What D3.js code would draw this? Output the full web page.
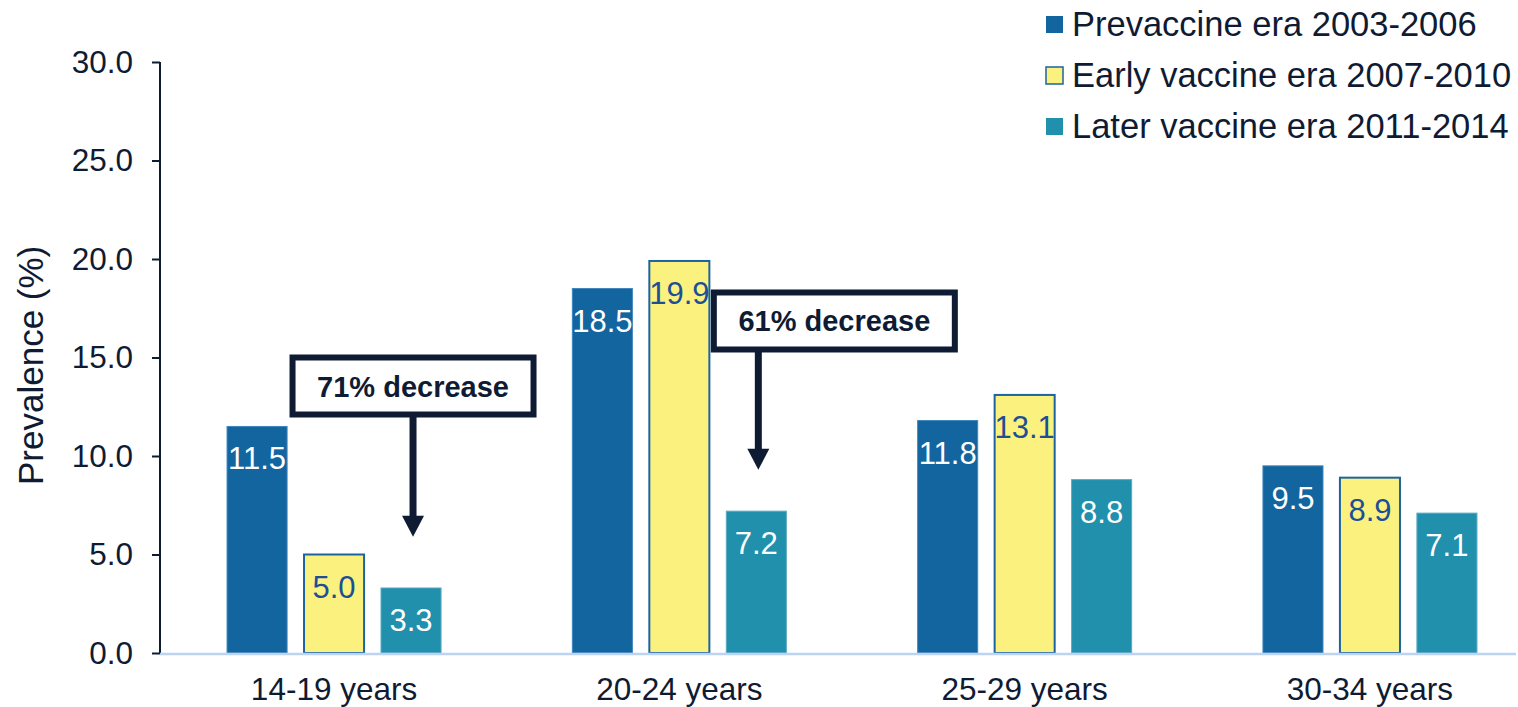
<!DOCTYPE html>
<html>
<head>
<meta charset="utf-8">
<script src="https://cdn.jsdelivr.net/npm/d3@7"></script>
<style>
  body { margin: 0; background: #fff; }
  svg { display: block; font-family: Arial, "Liberation Sans", sans-serif; }
</style>
</head>
<body>
<div id="chart"></div>
<script>
// data
const ageGroups = ["14-19 years", "20-24 years", "25-29 years", "30-34 years"];
const eras = ["Prevaccine era 2003-2006", "Early vaccine era 2007-2010", "Later vaccine era 2011-2014"];
const prevaccine = [11.5, 18.5, 11.8, 9.5];
const earlyVaccine = [5.0, 19.9, 13.1, 8.9];
const laterVaccine = [3.3, 7.2, 8.8, 7.1];
const yTicks = [0, 5, 10, 15, 20, 25, 30];
const notes = [
  { group: "14-19 years", label: "71% decrease", boxTop: 15.0, tip: 5.9, shift: 0 },
  { group: "20-24 years", label: "61% decrease", boxTop: 18.3, tip: 9.3, shift: 76 }
];

const colors = ["#13659f", "#fbf17f", "#2190ac"];
const strokes = ["#3f86bd", "#1d63a0", "#5aa9c2"];
const labelColors = ["#ffffff", "#1d4f96", "#ffffff"];
const ink = "#0f1b33";

const W = 1518, H = 707;
const svg = d3.select("#chart").append("svg")
  .attr("width", W)
  .attr("height", H);

// scales
const x0 = d3.scaleBand().domain(ageGroups).range([161.4, 1542.6]).padding(0);
const x1 = d3.scaleBand().domain(eras).range([-107, 107]).paddingInner(0.22).paddingOuter(0);
const y = d3.scaleLinear().domain([0, 30]).range([653, 62]);

const series = [prevaccine, earlyVaccine, laterVaccine];
const rows = [];
ageGroups.forEach((g, gi) => {
  eras.forEach((e, si) => {
    rows.push({ group: g, era: e, si: si, value: series[si][gi] });
  });
});

const cx = g => x0(g) + x0.bandwidth() / 2;

// y axis
const yAxis = svg.append("g")
  .attr("transform", "translate(160,0)")
  .call(d3.axisLeft(y).tickValues(yTicks).tickSize(8).tickPadding(19).tickFormat(d3.format(".1f")));
yAxis.select(".domain").attr("stroke", ink).attr("stroke-width", 2).attr("d", "M0," + y(30) + "V" + y(0));
yAxis.selectAll(".tick line").attr("stroke", ink).attr("stroke-width", 2);
yAxis.selectAll(".tick text")
  .attr("fill", ink)
  .style("font-size", "31.5px")
  .style("font-family", "Arial, 'Liberation Sans', sans-serif");

svg.append("text")
  .attr("transform", "translate(43," + y(14.6) + ") rotate(-90)")
  .attr("text-anchor", "middle")
  .attr("fill", ink)
  .style("font-size", "35px")
  .text("Prevalence (%)");

// bars
const bars = svg.append("g").selectAll("g.bar")
  .data(rows)
  .join("g")
  .attr("class", "bar");

bars.append("rect")
  .attr("x", d => cx(d.group) + x1(d.era))
  .attr("y", d => y(d.value))
  .attr("width", x1.bandwidth())
  .attr("height", d => y(0) - y(d.value))
  .attr("fill", d => colors[d.si])
  .attr("stroke", d => strokes[d.si])
  .attr("stroke-width", d => d.si === 1 ? 2 : 1);

bars.append("text")
  .attr("x", d => cx(d.group) + x1(d.era) + x1.bandwidth() / 2)
  .attr("y", d => y(d.value) + 43)
  .attr("text-anchor", "middle")
  .attr("fill", d => labelColors[d.si])
  .style("font-size", "31px")
  .text(d => d.value.toFixed(1));

// x baseline
svg.append("line")
  .attr("x1", 160).attr("x2", 1516)
  .attr("y1", y(0) + 1).attr("y2", y(0) + 1)
  .attr("stroke", "#bcd3f2")
  .attr("stroke-width", 2.5);

svg.append("g").selectAll("text")
  .data(ageGroups)
  .join("text")
  .attr("x", d => cx(d))
  .attr("y", 700)
  .attr("text-anchor", "middle")
  .attr("fill", ink)
  .style("font-size", "31.5px")
  .text(d => d);

// annotations
const ann = svg.append("g").selectAll("g.note")
  .data(notes)
  .join("g")
  .attr("class", "note");

const arrowX = d => cx(d.group) + x1(eras[2]) + x1.bandwidth() / 2 + 2;
const boxH = 57;

ann.append("line")
  .attr("x1", arrowX).attr("x2", arrowX)
  .attr("y1", d => y(d.boxTop) + boxH)
  .attr("y2", d => y(d.tip) - 18)
  .attr("stroke", ink)
  .attr("stroke-width", 7);

ann.append("path")
  .attr("d", d => {
    const ax = arrowX(d), ty = y(d.tip);
    return "M" + (ax - 11) + "," + (ty - 21) + "L" + (ax + 11) + "," + (ty - 21) + "L" + ax + "," + ty + "Z";
  })
  .attr("fill", ink);

ann.append("rect")
  .attr("x", d => arrowX(d) + d.shift - 120.5)
  .attr("y", d => y(d.boxTop))
  .attr("width", 241)
  .attr("height", boxH)
  .attr("fill", "#fff")
  .attr("stroke", ink)
  .attr("stroke-width", 6);

ann.append("text")
  .attr("x", d => arrowX(d) + d.shift)
  .attr("y", d => y(d.boxTop) + 39)
  .attr("text-anchor", "middle")
  .attr("fill", ink)
  .style("font-size", "29px")
  .style("font-weight", "bold")
  .text(d => d.label);

// legend
const legend = svg.append("g").selectAll("g.leg")
  .data(eras)
  .join("g")
  .attr("class", "leg")
  .attr("transform", (d, i) => "translate(1046," + (16 + i * 51) + ")");

legend.append("rect")
  .attr("width", 17).attr("height", 17)
  .attr("fill", (d, i) => colors[i])
  .attr("stroke", (d, i) => i === 1 ? strokes[1] : "none")
  .attr("stroke-width", 1.5);

legend.append("text")
  .attr("x", 26)
  .attr("y", 20)
  .attr("fill", ink)
  .style("font-size", "34.5px")
  .text(d => d);
</script>
</body>
</html>
